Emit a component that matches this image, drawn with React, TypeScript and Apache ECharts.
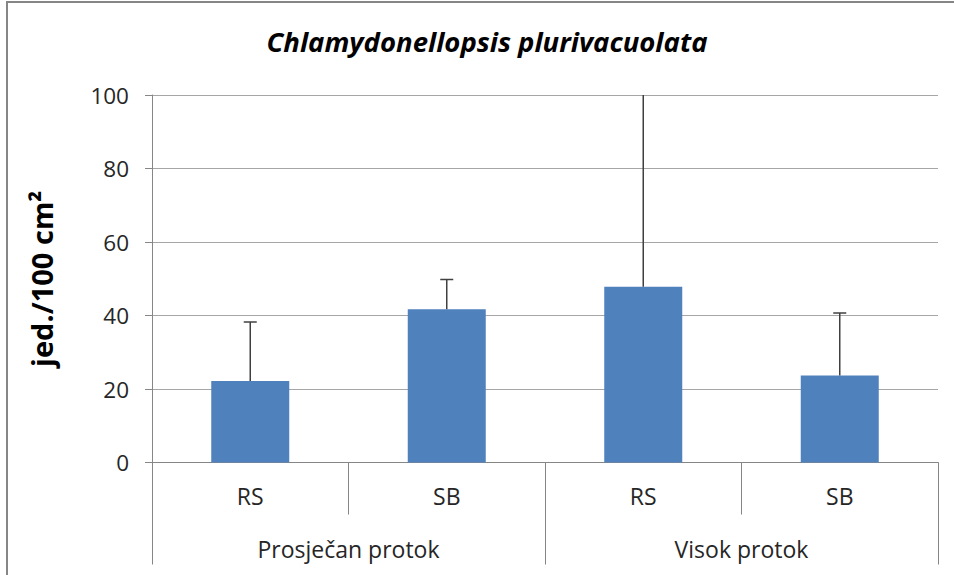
import React, { useEffect, useRef } from "react";
import * as echarts from "echarts";

const subCategories = ["RS", "SB", "RS", "SB"];
const groupCategories = ["Prosječan protok", "Visok protok"];
const meanValues = [22.2, 41.7, 47.8, 23.7];
const upperErrorValues = [38.2, 49.8, 112, 40.7];
const yTicks = { min: 0, max: 100, interval: 20 };
const titleText = "Chlamydonellopsis plurivacuolata";
const yAxisTitle = "jed./100 cm²";

const FONT = "'Open Sans', Lato, sans-serif";

export default function App() {
  const ref = useRef<HTMLDivElement>(null);
  useEffect(() => {
    if (!ref.current) return;
    const chart = echarts.init(ref.current, undefined, { renderer: "svg" });
    const errData = meanValues.map((v, i) => [i, v, upperErrorValues[i]]);
    chart.setOption({
      animation: false,
      backgroundColor: "#ffffff",
      textStyle: { fontFamily: FONT },
      grid: { left: 152, right: 16, top: 95, bottom: 112.5, containLabel: false },
      graphic: [
        {
          type: "rect",
          shape: { x: 7, y: 2, width: 1000, height: 700 },
          style: { fill: "none", stroke: "#868686", lineWidth: 2 },
          silent: true,
        },
        {
          type: "text",
          x: 487,
          y: 41,
          style: {
            text: titleText,
            fontFamily: FONT,
            fontSize: 27.5,
            fontWeight: "bold",
            fontStyle: "italic",
            fill: "#000000",
            textAlign: "center",
            textVerticalAlign: "middle",
          },
        },
      ],
      xAxis: [
        {
          type: "category",
          data: subCategories,
          gridIndex: 0,
          position: "bottom",
          axisLine: { show: true, lineStyle: { color: "#868686", width: 1 } },
          axisTick: { show: true, interval: 0, length: 52, lineStyle: { color: "#868686" } },
          axisLabel: { interval: 0, margin: 22, color: "#262626", fontSize: 23, fontFamily: FONT },
          splitLine: { show: false },
        },
        {
          type: "category",
          data: groupCategories,
          gridIndex: 0,
          position: "bottom",
          axisLine: { show: false },
          axisTick: { show: true, interval: 0, length: 102, lineStyle: { color: "#868686" } },
          axisLabel: { interval: 0, margin: 75, color: "#262626", fontSize: 23, fontFamily: FONT },
          splitLine: { show: false },
        },
      ],
      yAxis: {
        type: "value",
        min: yTicks.min,
        max: yTicks.max,
        interval: yTicks.interval,
        name: yAxisTitle,
        nameLocation: "middle",
        nameGap: 96,
        nameTextStyle: { fontFamily: FONT, fontSize: 29, fontWeight: "bold", color: "#000000" },
        axisLine: { show: true, lineStyle: { color: "#868686" } },
        axisTick: { show: true, length: 7, lineStyle: { color: "#868686" } },
        axisLabel: { color: "#262626", fontSize: 22.5, margin: 23, fontFamily: FONT },
        splitLine: { show: true, lineStyle: { color: "#a6a6a6", width: 1 } },
      },
      series: [
        {
          type: "bar",
          xAxisIndex: 0,
          data: meanValues,
          barWidth: 78,
          itemStyle: { color: "#4f81bd" },
        },
        {
          type: "custom",
          xAxisIndex: 0,
          clip: true,
          z: 5,
          data: errData,
          renderItem: (params: any, api: any) => {
            const x = api.value(0);
            const lo = api.coord([x, api.value(1)]);
            const hi = api.coord([x, api.value(2)]);
            const half = 6.5;
            return {
              type: "group",
              children: [
                {
                  type: "line",
                  shape: { x1: lo[0], y1: lo[1], x2: hi[0], y2: hi[1] },
                  style: { stroke: "#404040", lineWidth: 1.5 },
                },
                {
                  type: "line",
                  shape: { x1: hi[0] - half, y1: hi[1], x2: hi[0] + half, y2: hi[1] },
                  style: { stroke: "#404040", lineWidth: 1.5 },
                },
              ],
            };
          },
        },
      ],
    });
    return () => chart.dispose();
  }, []);
  return (
    <div
      ref={ref}
      style={{ position: "fixed", left: 0, top: 0, width: 954, height: 575 }}
    />
  );
}
